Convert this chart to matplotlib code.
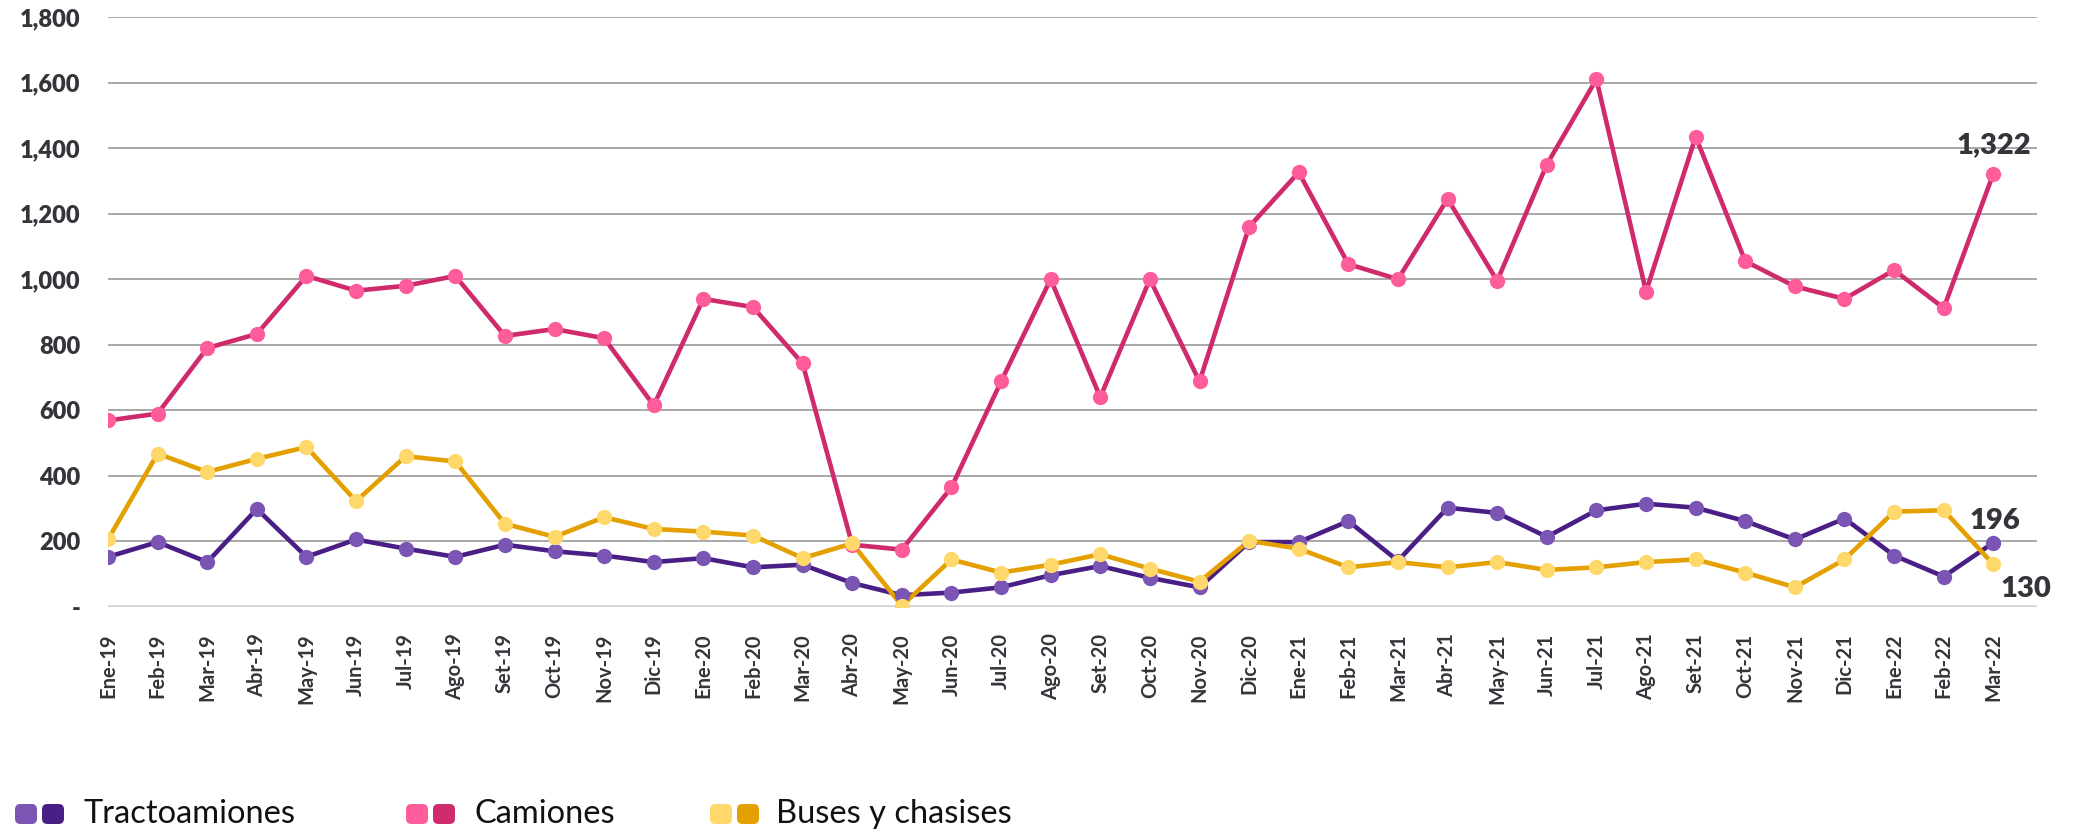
import matplotlib
matplotlib.use("Agg")
import matplotlib.pyplot as plt
from matplotlib.patches import FancyBboxPatch

months = ["Ene-19", "Feb-19", "Mar-19", "Abr-19", "May-19", "Jun-19", "Jul-19", "Ago-19",
          "Set-19", "Oct-19", "Nov-19", "Dic-19",
          "Ene-20", "Feb-20", "Mar-20", "Abr-20", "May-20", "Jun-20", "Jul-20", "Ago-20",
          "Set-20", "Oct-20", "Nov-20", "Dic-20",
          "Ene-21", "Feb-21", "Mar-21", "Abr-21", "May-21", "Jun-21", "Jul-21", "Ago-21",
          "Set-21", "Oct-21", "Nov-21", "Dic-21",
          "Ene-22", "Feb-22", "Mar-22"]

tractocamiones = [153, 198, 137, 299, 153, 206, 178, 153, 190, 170, 157, 137,
                  149, 121, 129, 73, 36, 44, 60, 97, 125, 89, 60, 198,
                  198, 262, 141, 303, 287, 214, 295, 315, 303, 262, 206, 270,
                  157, 93, 196]

camiones = [569, 590, 790, 833, 1010, 965, 980, 1010, 827, 848, 820, 615,
            940, 915, 743, 190, 175, 365, 688, 1000, 640, 1000, 688, 1160,
            1326, 1046, 1000, 1245, 995, 1350, 1610, 962, 1435, 1055, 978, 940,
            1028, 912, 1322]

buses = [206, 468, 412, 452, 488, 323, 460, 444, 254, 214, 274, 238,
         230, 218, 149, 194, 4, 145, 105, 129, 161, 117, 77, 202,
         178, 121, 137, 121, 137, 113, 121, 137, 145, 105, 60, 145,
         291, 295, 130]

y_ticks = [0, 200, 400, 600, 800, 1000, 1200, 1400, 1600, 1800]
y_tick_labels = ["-", "200", "400", "600", "800", "1,000", "1,200", "1,400", "1,600", "1,800"]

legend_names = ["Tractoamiones", "Camiones", "Buses y chasises"]

series = [
    (tractocamiones, "#4A1F85", "#7B55B3"),
    (camiones, "#CF2A6B", "#FF5C9B"),
    (buses, "#E3A000", "#FFD86C"),
]

text_dark = "#33353A"
font_main = ["Lato", "DejaVu Sans"]

W, H = 2074, 831
fig = plt.figure(figsize=(W / 100, H / 100), dpi=100)
ax = fig.add_axes([108 / W, 1 - 607 / H, (2037 - 108) / W, (607 - 17) / H])

x = list(range(len(months)))

for values, line_c, marker_c in series:
    ax.plot(x, values, color=line_c, lw=3.3, zorder=3, solid_capstyle="round",
            solid_joinstyle="round")
    ax.plot(x, values, ls="none", marker="o", ms=11, mfc=marker_c, mec="none", zorder=4)

ax.set_xlim(0, len(months) - 1 + 0.88)
ax.set_ylim(0, 1800)

for t in y_ticks[1:]:
    ax.axhline(t, color="#A8A8A8", lw=1.4, zorder=1)
ax.axhline(0, color="#D4D4D4", lw=2.6, zorder=1)

for s in ax.spines.values():
    s.set_visible(False)

ax.set_yticks(y_ticks)
ax.set_yticklabels(y_tick_labels, fontfamily=font_main, fontweight="heavy",
                   fontsize=17, color=text_dark)
ax.set_xticks(x)
ax.set_xticklabels(months, rotation=90, fontfamily=font_main, fontweight="bold",
                   fontsize=14.5, color=text_dark)
ax.tick_params(axis="both", length=0)
ax.tick_params(axis="y", pad=20)
ax.tick_params(axis="x", pad=19)

last = len(months) - 1
label_kw = dict(textcoords="offset points", fontfamily=font_main, fontweight="heavy",
                fontsize=21, color=text_dark)
ax.annotate(f"{camiones[-1]:,}", (last, camiones[-1]), xytext=(0, 11),
            ha="center", va="bottom", **label_kw)
ax.annotate(f"{tractocamiones[-1]:,}", (last, tractocamiones[-1]), xytext=(1, 6),
            ha="center", va="bottom", **label_kw)
ax.annotate(f"{buses[-1]:,}", (last, buses[-1]), xytext=(5, -18),
            ha="left", va="center", **label_kw)

# custom legend: two rounded swatches (marker colour, line colour) + label
legend_x = [15, 406, 710]
text_x = [84, 475, 776]
sw, sh = 22, 20
sy = 814
for (values, line_c, marker_c), lx, tx, name in zip(series, legend_x, text_x, legend_names):
    for k, c in enumerate([marker_c, line_c]):
        px = lx + k * 27
        box = FancyBboxPatch((px / W, 1 - (sy + sh / 2) / H), sw / W, sh / H,
                             boxstyle="round,pad=0,rounding_size=0.0026",
                             mutation_aspect=W / H,
                             transform=fig.transFigure, facecolor=c, edgecolor="none")
        fig.patches.append(box)
    fig.text(tx / W, 1 - sy / H, name, ha="left", va="center",
             fontfamily=font_main, fontweight="normal",
             fontsize=23.5, color="#111111")

fig.savefig("out.png", dpi=100, facecolor="white")
